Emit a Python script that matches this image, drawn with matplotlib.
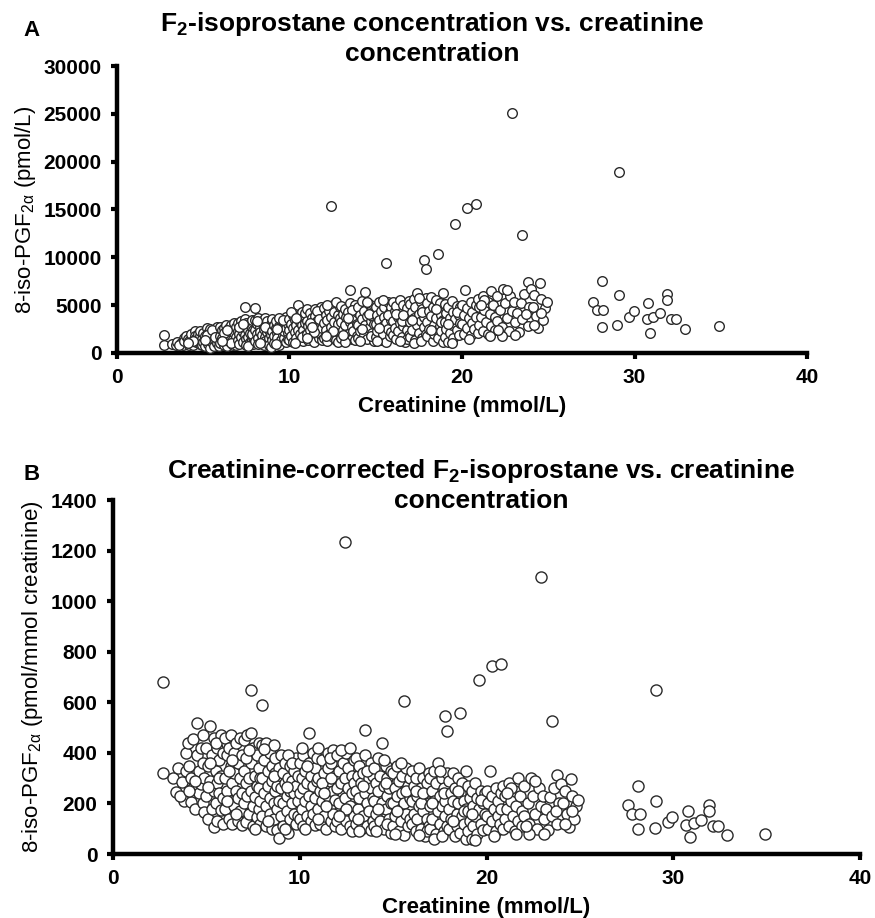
import numpy as np
import matplotlib.pyplot as plt

plt.rcParams['font.family'] = ['Liberation Sans', 'DejaVu Sans']
plt.rcParams['mathtext.fontset'] = 'custom'
plt.rcParams['mathtext.rm'] = 'Liberation Sans'
plt.rcParams['mathtext.bf'] = 'Liberation Sans:bold'
plt.rcParams['mathtext.default'] = 'regular'

# creatinine (mmol/L), one line per 1 mmol/L band
creatinine = [
    2.7, 2.7,
    3.2, 3.4, 3.5, 3.7, 3.8, 3.9, 3.6, 3.9,
    4.0, 4.1, 4.2, 4.2, 4.3, 4.3, 4.4, 4.5, 4.5, 4.6, 4.6, 4.7, 4.7, 4.8, 4.8, 4.9, 4.9, 4.4, 4.1, 4.8,
    5.0, 5.0, 5.1, 5.1, 5.2, 5.2, 5.3, 5.3, 5.4, 5.4, 5.4, 5.5, 5.5, 5.6, 5.6, 5.6, 5.7, 5.7, 5.8, 5.8, 5.8, 5.9, 5.9, 5.9, 5.2, 5.5, 5.7, 5.1,
    6.0, 6.0, 6.0, 6.1, 6.1, 6.2, 6.2, 6.3, 6.3, 6.3, 6.4, 6.4, 6.5, 6.5, 6.5, 6.6, 6.6, 6.7, 6.7, 6.7, 6.8, 6.8, 6.8, 6.9, 6.9, 6.9, 6.2, 6.4, 6.6, 6.1,
    7.0, 7.0, 7.0, 7.1, 7.1, 7.2, 7.2, 7.2, 7.3, 7.3, 7.4, 7.4, 7.4, 7.4, 7.5, 7.5, 7.5, 7.6, 7.6, 7.7, 7.7, 7.7, 7.8, 7.8, 7.8, 7.9, 7.9, 7.9, 7.1, 7.3, 7.6, 7.8,
    8.0, 8.0, 8.0, 8.0, 8.1, 8.1, 8.2, 8.2, 8.2, 8.3, 8.3, 8.4, 8.4, 8.4, 8.5, 8.5, 8.5, 8.6, 8.6, 8.6, 8.7, 8.7, 8.7, 8.8, 8.8, 8.8, 8.9, 8.9, 8.9, 8.3, 8.6, 8.1,
    9.0, 9.0, 9.0, 9.1, 9.1, 9.1, 9.2, 9.2, 9.3, 9.3, 9.4, 9.4, 9.5, 9.5, 9.5, 9.6, 9.6, 9.7, 9.7, 9.7, 9.8, 9.8, 9.8, 9.9, 9.9, 9.9, 9.2, 9.4, 9.6, 9.3,
    10.0, 10.0, 10.0, 10.1, 10.1, 10.2, 10.2, 10.2, 10.3, 10.3, 10.4, 10.4, 10.5, 10.5, 10.5, 10.6, 10.6, 10.6, 10.7, 10.7, 10.8, 10.8, 10.8, 10.9, 10.9, 10.9, 10.1, 10.4, 10.7, 10.3,
    11.0, 11.0, 11.0, 11.1, 11.1, 11.2, 11.2, 11.3, 11.3, 11.4, 11.4, 11.5, 11.5, 11.5, 11.6, 11.6, 11.7, 11.7, 11.8, 11.8, 11.8, 11.9, 11.9, 11.9, 11.2, 11.4, 11.6, 11.3, 11.7, 11.0,
    12.0, 12.0, 12.0, 12.1, 12.1, 12.2, 12.2, 12.3, 12.3, 12.4, 12.4, 12.4, 12.5, 12.5, 12.6, 12.6, 12.7, 12.7, 12.8, 12.8, 12.9, 12.9, 12.9, 12.2, 12.5, 12.7, 12.1, 12.8,
    13.0, 13.0, 13.0, 13.1, 13.1, 13.2, 13.2, 13.3, 13.3, 13.4, 13.4, 13.5, 13.5, 13.5, 13.6, 13.6, 13.7, 13.7, 13.8, 13.8, 13.9, 13.9, 13.9, 13.2, 13.6, 13.4, 13.1, 13.8,
    14.0, 14.0, 14.0, 14.1, 14.1, 14.2, 14.2, 14.3, 14.3, 14.4, 14.4, 14.5, 14.5, 14.6, 14.6, 14.7, 14.7, 14.8, 14.8, 14.9, 14.9, 14.9, 14.2, 14.5, 14.7, 14.1, 14.6,
    15.0, 15.0, 15.0, 15.1, 15.1, 15.2, 15.2, 15.3, 15.3, 15.4, 15.4, 15.5, 15.5, 15.6, 15.6, 15.6, 15.7, 15.7, 15.8, 15.8, 15.9, 15.9, 15.9, 15.2, 15.4, 15.7, 15.1,
    16.0, 16.0, 16.0, 16.1, 16.1, 16.2, 16.2, 16.3, 16.3, 16.4, 16.4, 16.5, 16.5, 16.6, 16.6, 16.7, 16.7, 16.8, 16.8, 16.9, 16.9, 16.9, 16.2, 16.5, 16.8, 16.4, 16.6,
    17.0, 17.0, 17.0, 17.1, 17.1, 17.2, 17.2, 17.3, 17.3, 17.4, 17.4, 17.5, 17.5, 17.6, 17.6, 17.7, 17.7, 17.8, 17.8, 17.8, 17.9, 17.9, 17.9, 17.2, 17.5, 17.6, 17.1, 17.7,
    18.0, 18.0, 18.0, 18.1, 18.1, 18.2, 18.2, 18.3, 18.3, 18.4, 18.4, 18.5, 18.5, 18.6, 18.6, 18.6, 18.7, 18.7, 18.8, 18.8, 18.9, 18.9, 18.9, 18.2, 18.5, 18.8,
    19.0, 19.0, 19.0, 19.1, 19.1, 19.2, 19.2, 19.3, 19.3, 19.4, 19.4, 19.5, 19.5, 19.6, 19.6, 19.7, 19.7, 19.8, 19.8, 19.9, 19.9, 19.4, 19.7, 19.2,
    20.0, 20.0, 20.1, 20.1, 20.2, 20.3, 20.3, 20.3, 20.4, 20.5, 20.5, 20.6, 20.6, 20.7, 20.8, 20.8, 20.8, 20.9, 20.9, 20.4,
    21.0, 21.0, 21.1, 21.2, 21.2, 21.3, 21.4, 21.5, 21.5, 21.6, 21.7, 21.7, 21.8, 21.9, 21.9, 21.3, 21.6, 21.1,
    22.0, 22.0, 22.2, 22.3, 22.4, 22.5, 22.6, 22.7, 22.8, 22.9, 22.9, 22.3, 22.6, 22.1,
    23.0, 23.1, 23.2, 23.3, 23.4, 23.5, 23.5, 23.6, 23.8, 23.8, 23.9, 23.1, 23.7,
    24.0, 24.2, 24.4, 24.5, 24.3, 24.1, 24.6, 24.8, 24.7, 24.9, 24.2, 24.6,
    27.6, 27.8, 28.1, 28.2, 28.1, 29.0, 29.1, 29.1, 29.7, 29.95, 30.8, 30.7, 30.9, 31.1, 31.5, 31.9, 31.9, 32.1, 32.4, 32.9, 34.9,
]

# creatinine-corrected 8-iso-PGF2a (pmol/mmol creatinine), same order
corrected = [
    320, 680,
    300, 245, 340, 285, 210, 400, 230, 330,
    440, 350, 300, 205, 455, 260, 180, 520, 390, 330, 240, 420, 275, 200, 360, 300, 165, 290, 250, 470,
    420, 230, 350, 140, 505, 290, 180, 390, 460, 250, 105, 330, 200, 420, 280, 130, 370, 240, 470, 310, 175, 400, 220, 120, 360, 440, 300, 265,
    460, 300, 180, 390, 250, 420, 140, 350, 210, 470, 280, 120, 400, 320, 190, 250, 440, 130, 360, 220, 300, 460, 170, 390, 240, 115, 330, 370, 160, 210,
    450, 330, 200, 280, 125, 470, 380, 230, 300, 160, 650, 480, 360, 250, 190, 110, 420, 310, 225, 390, 145, 270, 340, 180, 440, 210, 300, 120, 380, 410, 100, 260,
    590, 430, 300, 150, 370, 240, 440, 190, 110, 330, 270, 400, 160, 220, 350, 100, 290, 430, 200, 140, 320, 250, 380, 180, 95, 270, 65, 340, 210, 130, 310, 415,
    390, 260, 150, 320, 200, 110, 280, 360, 230, 170, 300, 85, 350, 250, 140, 200, 290, 330, 160, 240, 380, 120, 270, 210, 310, 150, 100, 390, 360, 265,
    360, 240, 140, 300, 180, 390, 260, 110, 330, 210, 150, 280, 478, 360, 230, 310, 130, 190, 270, 400, 340, 220, 115, 290, 170, 380, 420, 350, 160, 100,
    420, 300, 180, 250, 120, 370, 210, 320, 150, 270, 100, 400, 230, 340, 190, 290, 130, 360, 250, 410, 160, 310, 215, 110, 280, 190, 380, 240, 300, 140,
    390, 260, 130, 330, 200, 280, 100, 360, 160, 1235, 300, 220, 400, 130, 260, 340, 190, 110, 310, 240, 370, 150, 280, 410, 180, 420, 150, 90,
    380, 250, 120, 310, 180, 220, 350, 100, 280, 150, 320, 490, 240, 390, 200, 110, 300, 170, 260, 360, 130, 220, 310, 90, 330, 270, 140, 95,
    340, 210, 110, 280, 160, 250, 380, 130, 310, 440, 200, 270, 100, 350, 180, 230, 300, 140, 260, 330, 200, 85, 180, 370, 120, 90, 280,
    320, 200, 110, 260, 150, 350, 230, 90, 290, 180, 130, 310, 240, 606, 200, 75, 340, 160, 270, 110, 220, 300, 140, 170, 360, 250, 80,
    330, 210, 120, 270, 160, 90, 300, 230, 140, 340, 190, 260, 100, 300, 170, 230, 70, 280, 140, 200, 320, 110, 250, 200, 90, 75, 240,
    300, 190, 100, 250, 140, 330, 210, 80, 280, 360, 170, 230, 120, 300, 190, 260, 90, 545, 210, 150, 488, 320, 110, 60, 330, 70, 200, 240,
    290, 180, 100, 240, 140, 320, 210, 70, 260, 160, 110, 300, 200, 559, 240, 85, 280, 150, 210, 120, 330, 180, 60, 130, 250, 170,
    270, 170, 90, 220, 130, 60, 250, 190, 110, 280, 150, 220, 80, 690, 180, 250, 120, 200, 95, 160, 240, 55, 215, 160,
    250, 150, 200, 100, 328, 745, 230, 130, 180, 260, 90, 210, 150, 120, 750, 240, 180, 270, 100, 70,
    230, 140, 180, 280, 110, 210, 150, 250, 90, 190, 130, 300, 230, 170, 110, 260, 80, 240,
    270, 150, 200, 120, 300, 230, 160, 100, 260, 1095, 190, 80, 290, 110,
    230, 140, 180, 95, 224, 527, 150, 260, 311, 120, 200, 80, 170,
    278, 250, 105, 298, 160, 200, 230, 189, 140, 215, 120, 170,
    193, 160, 268, 160, 98, 102, 210, 650, 126, 147, 170, 114, 68, 121, 134, 193, 172, 110, 110, 75, 81,
]

creat = np.array(creatinine)
corr = np.array(corrected)
iso = corr * creat  # pmol/L (uncorrected)

fig = plt.figure(figsize=(8.75, 9.18), dpi=100)
axA = fig.add_axes([0.1337, 0.6155, 0.7886, 0.3126])
axB = fig.add_axes([0.129, 0.0697, 0.854, 0.3856])


def style(ax):
    for s in ['top', 'right']:
        ax.spines[s].set_visible(False)
    for s in ['left', 'bottom']:
        ax.spines[s].set_linewidth(3.2)
    ax.tick_params(direction='out', length=4, width=3, labelsize=15, pad=7)
    for lab in ax.get_xticklabels() + ax.get_yticklabels():
        lab.set_fontweight('bold')


axA.scatter(creat, iso, s=48, facecolors='white', edgecolors='#2a2a2a', linewidths=1.0, zorder=3, clip_on=False)
axA.set_xlim(0, 40)
axA.set_ylim(0, 30000)
axA.set_xticks([0, 10, 20, 30, 40])
axA.set_yticks(np.arange(0, 30001, 5000))
style(axA)
axA.set_xlabel('Creatinine (mmol/L)', fontsize=16, fontweight='bold', labelpad=6)
axA.set_ylabel(r'8-iso-PGF$_{2\alpha}$ (pmol/L)', fontsize=16, labelpad=4)

axB.scatter(creat, corr, s=64, facecolors='white', edgecolors='#2a2a2a', linewidths=1.0, zorder=3, clip_on=False)
axB.set_xlim(0, 40)
axB.set_ylim(0, 1400)
axB.set_xticks([0, 10, 20, 30, 40])
axB.set_yticks(np.arange(0, 1401, 200))
style(axB)
axB.set_xlabel('Creatinine (mmol/L)', fontsize=16, fontweight='bold', labelpad=6)
axB.set_ylabel(r'8-iso-PGF$_{2\alpha}$ (pmol/mmol creatinine)', fontsize=16, labelpad=4)

fig.text(0.036, 0.967, 'A', fontsize=16, fontweight='bold', ha='center', va='center')
fig.text(0.494, 0.989, 'F$_\\mathbf{2}$-isoprostane concentration vs. creatinine\nconcentration',
         fontsize=19, fontweight='bold', ha='center', va='top', linespacing=1.2)
fig.text(0.036, 0.483, 'B', fontsize=16, fontweight='bold', ha='center', va='center')
fig.text(0.55, 0.502, 'Creatinine-corrected F$_\\mathbf{2}$-isoprostane vs. creatinine\nconcentration',
         fontsize=19, fontweight='bold', ha='center', va='top', linespacing=1.2)

fig.savefig('out.png', dpi=100)
